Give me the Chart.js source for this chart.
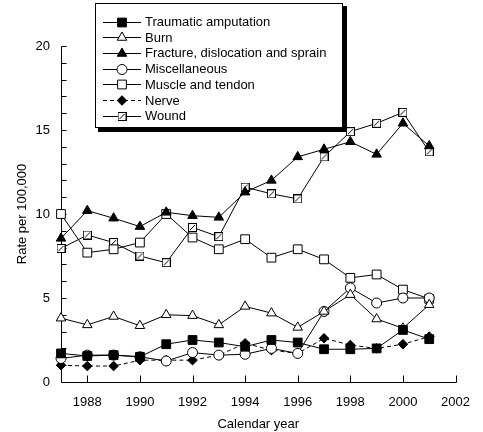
<!DOCTYPE html>
<html>
<head>
<meta charset="utf-8">
<script src="https://cdn.jsdelivr.net/npm/chart.js@4.4.1/dist/chart.umd.min.js"></script>
<style>
    html, body { margin: 0; padding: 0; background: #fff; }
    #wrap { width: 483px; height: 432px; }
</style>
</head>
<body>
<div id="wrap"><canvas id="injury-rates"></canvas></div>
<script>
    "use strict";

    // Data
    var years = [1987, 1988, 1989, 1990, 1991, 1992, 1993, 1994, 1995, 1996, 1997, 1998, 1999, 2000, 2001];
    var amputation = [1.7, 1.55, 1.6, 1.5, 2.25, 2.5, 2.35, 2.1, 2.5, 2.35, 1.95, 1.95, 2.0, 3.1, 2.55];
    var burn = [3.8, 3.4, 3.9, 3.35, 4.0, 3.95, 3.4, 4.5, 4.1, 3.25, 4.2, 5.2, 3.75, 3.2, 4.6];
    var fracture = [8.55, 10.2, 9.75, 9.25, 10.1, 9.9, 9.8, 11.3, 12.0, 13.4, 13.85, 14.3, 13.55, 15.4, 14.05];
    var misc = [1.4, 1.6, 1.6, 1.5, 1.25, 1.75, 1.6, 1.65, 2.0, 1.7, 4.2, 5.6, 4.7, 5.0, 5.0];
    var muscle = [10.0, 7.7, 7.9, 8.3, 10.0, 8.6, 7.9, 8.5, 7.4, 7.9, 7.3, 6.2, 6.4, 5.5, 4.95];
    var nerve = [1.0, 0.95, 0.95, 1.3, 1.3, 1.3, 1.6, 2.3, 1.9, 1.7, 2.6, 2.2, 2.0, 2.25, 2.7];
    var wound = [7.95, 8.75, 8.3, 7.5, 7.1, 9.2, 8.65, 11.6, 11.2, 10.9, 13.4, 14.9, 15.4, 16.05, 13.7];

    var xTicks = [1988, 1990, 1992, 1994, 1996, 1998, 2000, 2002];
    var yTicks = [0, 5, 10, 15, 20];

    var FONT = "'Liberation Sans', Arial, sans-serif";

    // square with a slash, used for "Wound"
    var woundMark = document.createElement('canvas');
    woundMark.width = 9;
    woundMark.height = 9;
    (function () {
        var c = woundMark.getContext('2d');
        c.fillStyle = '#fff';
        c.fillRect(0, 0, 9, 9);
        c.strokeStyle = '#000';
        c.lineWidth = 1;
        c.strokeRect(0.5, 0.5, 8, 8);
        c.beginPath();
        c.moveTo(2, 7);
        c.lineTo(7, 2);
        c.stroke();
    })();

    function pts(values) {
        return values.map(function (v, i) { return {x: years[i], y: v}; });
    }

    function series(label, values, style, radius, fill, dash) {
        return {
            label: label,
            data: pts(values),
            borderColor: '#000',
            borderWidth: 1,
            borderDash: dash || [],
            pointStyle: style,
            pointRadius: radius,
            pointBackgroundColor: fill,
            pointBorderColor: '#000',
            pointBorderWidth: 1,
            tension: 0,
            clip: false
        };
    }

    var datasets = [
        series('Traumatic amputation', amputation, 'rect', 6.2, '#000'),
        series('Burn', burn, 'triangle', 5.5, '#fff'),
        series('Fracture, dislocation and sprain', fracture, 'triangle', 5.5, '#000'),
        series('Miscellaneous', misc, 'circle', 5, '#fff'),
        series('Muscle and tendon', muscle, 'rect', 6.2, '#fff'),
        series('Nerve', nerve, 'rectRot', 4.8, '#000', [4, 3]),
        series('Wound', wound, woundMark, 4.5, '#fff')
    ];

    // Axis lines and inward tick marks
    var axisPlugin = {
        id: 'axisLines',
        beforeDatasetsDraw: function (chart) {
            var ctx = chart.ctx;
            var a = chart.chartArea;
            var xs = chart.scales.x, ys = chart.scales.y;
            ctx.save();
            ctx.strokeStyle = '#000';
            ctx.lineWidth = 1;
            ctx.beginPath();
            var l = Math.round(a.left) + 0.5, b = Math.round(a.bottom) + 0.5;
            ctx.moveTo(l, Math.round(a.top) + 0.5);
            ctx.lineTo(l, b);
            ctx.lineTo(Math.round(a.right) + 0.5, b);
            for (var v = 0; v <= 20; v++) {
                var py = Math.round(ys.getPixelForValue(v)) + 0.5;
                ctx.moveTo(l, py);
                ctx.lineTo(l + 5, py);
            }
            xTicks.forEach(function (t) {
                var px = Math.round(xs.getPixelForValue(t)) + 0.5;
                ctx.moveTo(px, b);
                ctx.lineTo(px, b - 7);
            });
            ctx.stroke();
            ctx.restore();
        }
    };

    // Boxed legend with drop shadow
    var legendPlugin = {
        id: 'boxLegend',
        afterDraw: function (chart) {
            var ctx = chart.ctx;
            var left = 95, top = 3, right = 343, bottom = 128;
            ctx.save();
            ctx.fillStyle = '#000';
            ctx.fillRect(left + 3, top + 3, right - left + 1, bottom - top + 1);
            ctx.fillStyle = '#fff';
            ctx.fillRect(left, top, right - left, bottom - top);
            ctx.strokeStyle = '#000';
            ctx.lineWidth = 1;
            ctx.strokeRect(left + 0.5, top + 0.5, right - left - 1, bottom - top - 1);
            ctx.font = '13px ' + FONT;
            ctx.textBaseline = 'middle';
            chart.data.datasets.forEach(function (ds, i) {
                var y = 21.5 + i * 15.7;
                ctx.strokeStyle = '#000';
                ctx.setLineDash(ds.borderDash);
                ctx.beginPath();
                ctx.moveTo(103, Math.round(y) + 0.5);
                ctx.lineTo(141, Math.round(y) + 0.5);
                ctx.stroke();
                ctx.setLineDash([]);
                ctx.fillStyle = ds.pointBackgroundColor;
                Chart.helpers.drawPoint(ctx, {
                    pointStyle: ds.pointStyle,
                    radius: ds.pointRadius,
                    borderWidth: 1,
                    rotation: 0
                }, 122, Math.round(y) + 0.5);
                ctx.fillStyle = '#000';
                ctx.fillText(ds.label, 145, y + 1);
            });
            ctx.restore();
        }
    };

    var ctx1 = document.getElementById('injury-rates').getContext('2d');
    var myChart = new Chart(ctx1, {
        type: 'line',
        data: {datasets: datasets},
        options: {
            responsive: true,
            maintainAspectRatio: false,
            animation: false,
            events: [],
            layout: {padding: {top: 46, right: 17, left: 0, bottom: 0}},
            plugins: {
                legend: {display: false},
                tooltip: {enabled: false}
            },
            scales: {
                x: {
                    type: 'linear',
                    min: 1987,
                    max: 2002,
                    border: {display: false},
                    grid: {display: false, drawTicks: false},
                    afterBuildTicks: function (scale) {
                        scale.ticks = xTicks.map(function (v) { return {value: v}; });
                    },
                    afterFit: function (scale) { scale.height = 50; },
                    ticks: {
                        padding: 13,
                        color: '#000',
                        maxRotation: 0,
                        font: {family: FONT, size: 13},
                        callback: function (v) { return String(v); }
                    },
                    title: {
                        display: true,
                        text: 'Calendar year',
                        color: '#000',
                        padding: {top: 0, bottom: 0},
                        font: {family: FONT, size: 13}
                    }
                },
                y: {
                    min: 0,
                    max: 20,
                    border: {display: false},
                    grid: {display: false, drawTicks: false},
                    afterBuildTicks: function (scale) {
                        scale.ticks = yTicks.map(function (v) { return {value: v}; });
                    },
                    afterFit: function (scale) { scale.width = 61; },
                    ticks: {
                        padding: 11,
                        color: '#000',
                        font: {family: FONT, size: 13}
                    },
                    title: {
                        display: true,
                        text: 'Rate per 100,000',
                        color: '#000',
                        padding: {top: 15, bottom: 0},
                        font: {family: FONT, size: 13}
                    }
                }
            }
        },
        plugins: [axisPlugin, legendPlugin]
    });
</script>
</body>
</html>
